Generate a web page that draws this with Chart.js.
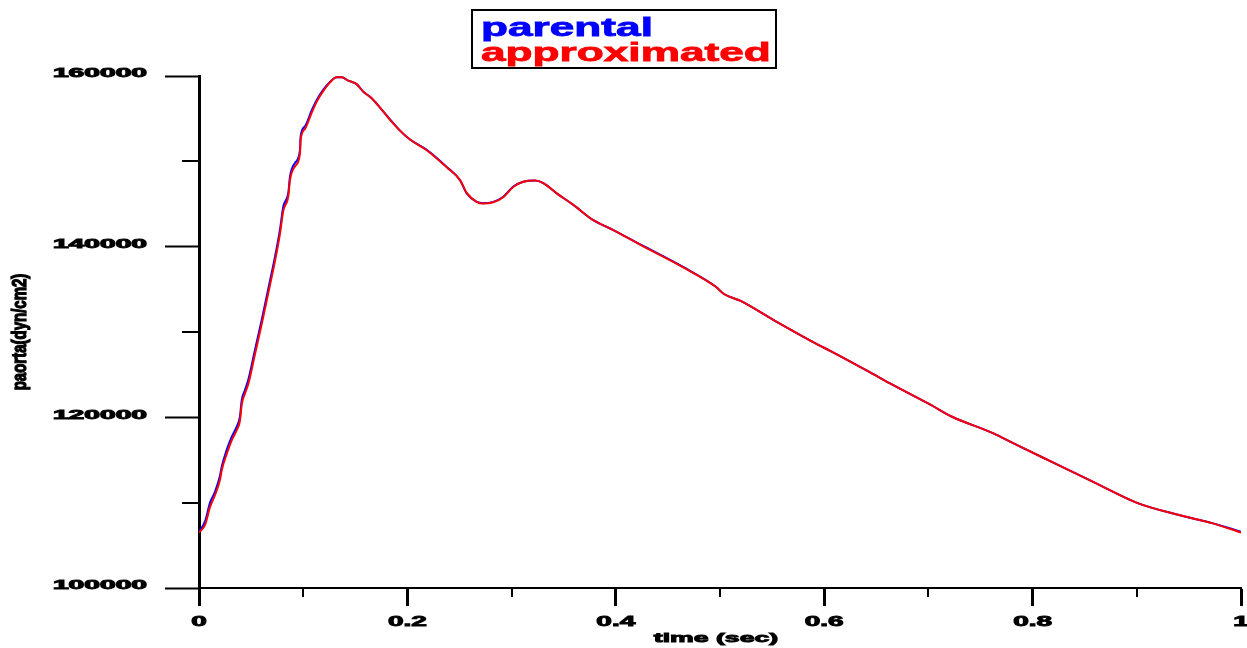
<!DOCTYPE html>
<html>
<head>
<meta charset="utf-8">
<script src="https://cdn.jsdelivr.net/npm/chart.js@4.4.1/dist/chart.umd.min.js"></script>
<style>
  html, body { margin: 0; padding: 0; background: #fff; }
  #wrap { width: 1247px; height: 648px; position: relative; }
</style>
</head>
<body>
<div id="wrap"><canvas id="pressure-chart"></canvas></div>
<script>
// --- data ---
const time = [0, 0.0058, 0.0106, 0.0154, 0.0202, 0.0218, 0.0266, 0.0314, 0.0362, 0.0393,
    0.041, 0.0441, 0.0473, 0.0537, 0.0605, 0.0662, 0.0729, 0.0777, 0.0809, 0.0857,
    0.0873, 0.0921, 0.0969, 0.0975, 0.1017, 0.1082, 0.113, 0.1193, 0.1257, 0.1321,
    0.137, 0.1433, 0.1513, 0.1577, 0.1657, 0.1737, 0.1817, 0.1929, 0.2025, 0.2185,
    0.2377, 0.2505, 0.2569, 0.2665, 0.2728, 0.2824, 0.292, 0.3016, 0.3112, 0.3225,
    0.3304, 0.3433, 0.3592, 0.3784, 0.3976, 0.4246, 0.4642, 0.496, 0.5038, 0.5198,
    0.5515, 0.5912, 0.6071, 0.6428, 0.6627, 0.7024, 0.7222, 0.7619, 0.7818, 0.8214,
    0.8611, 0.9008, 0.9405, 0.9722, 1.0];

const parental = [106600, 107800, 110000, 111300, 113200, 114200, 116200, 117700, 118900, 120100,
    122000, 123200, 124400, 127900, 131600, 134900, 138800, 142000, 144700, 146300,
    148200, 149800, 151300, 152900, 154100, 156000, 157200, 158400, 159300, 159850,
    159850, 159450, 159050, 158150, 157400, 156300, 155150, 153600, 152550, 151350,
    149350, 147800, 146250, 145250, 145100, 145250, 145850, 147050, 147600, 147750,
    147450, 146250, 144900, 143100, 141950, 140200, 137650, 135300, 134450, 133650,
    131400, 128700, 127700, 125350, 124000, 121450, 120100, 118150, 116950, 114600,
    112250, 109950, 108550, 107600, 106600];

const approximated = [106500, 107400, 109500, 110900, 112700, 113800, 115700, 117300, 118500, 119600,
    121500, 122800, 123900, 127400, 131100, 134400, 138300, 141500, 144200, 145900,
    147800, 149400, 150900, 152500, 153800, 155700, 157000, 158250, 159250, 159850,
    159850, 159450, 159050, 158150, 157400, 156300, 155100, 153600, 152550, 151300,
    149300, 147800, 146300, 145250, 145050, 145200, 145800, 147000, 147600, 147750,
    147450, 146250, 144900, 143100, 141950, 140150, 137600, 135300, 134450, 133650,
    131400, 128700, 127700, 125350, 124000, 121450, 120100, 118150, 116950, 114600,
    112250, 109950, 108550, 107600, 106500];

const xTickLabels = ['0', '0.2', '0.4', '0.6', '0.8', '1'];
const yTickLabels = ['100000', '120000', '140000', '160000'];
const xMinorTicks = [0.1, 0.3, 0.5, 0.7, 0.9];
const yMinorTicks = [110000, 130000, 150000];

const xTitle = 'time (sec)';
const yTitle = 'paorta(dyn/cm2)';

const toPoints = (xs, ys) => xs.map((t, i) => ({ x: t, y: ys[i] }));

// wide, heavy text like the old plotting tool printed it
function wideText(ctx, text, px, py, sx, align, weight) {
    ctx.save();
    ctx.translate(px, py);
    ctx.scale(sx, 1);
    ctx.textAlign = align;
    ctx.fillText(text, 0, 0);
    if (weight) {
        ctx.strokeStyle = ctx.fillStyle;
        ctx.lineWidth = weight;
        ctx.strokeText(text, 0, 0);
    }
    ctx.restore();
}

const axisDecor = {
    id: 'axisDecor',
    afterDraw(chart) {
        const { ctx, scales: { x, y } } = chart;
        ctx.save();
        ctx.strokeStyle = '#000';
        ctx.fillStyle = '#000';

        // minor ticks
        ctx.lineWidth = 2;
        ctx.beginPath();
        xMinorTicks.forEach(v => {
            const px = Math.round(x.getPixelForValue(v));
            ctx.moveTo(px, x.top);
            ctx.lineTo(px, x.top + 9);
        });
        yMinorTicks.forEach(v => {
            const py = Math.round(y.getPixelForValue(v));
            ctx.moveTo(y.right - 17, py);
            ctx.lineTo(y.right, py);
        });
        ctx.stroke();

        // tick labels
        ctx.textBaseline = 'middle';
        ctx.font = 'bold 14px "Liberation Sans"';
        x.ticks.forEach((t, i) => {
            wideText(ctx, xTickLabels[i], x.getPixelForValue(t.value), 622, 2.0, 'center', 0.9);
        });
        ctx.font = 'bold 12px "Liberation Sans"';
        y.ticks.forEach((t, i) => {
            wideText(ctx, yTickLabels[i], 147, y.getPixelForValue(t.value) - 2, 2.35, 'right', 0.9);
        });

        // axis titles
        ctx.font = 'bold 13px "Liberation Sans"';
        wideText(ctx, xTitle, (x.left + x.right) / 2 - 4, 638, 2.05, 'center', 0.9);

        ctx.save();
        ctx.translate(21, (y.top + y.bottom) / 2);
        ctx.scale(1.3, 1);
        ctx.rotate(-Math.PI / 2);
        ctx.font = 'bold 15px "Liberation Sans"';
        ctx.textAlign = 'center';
        ctx.fillText(yTitle, 0, 0);
        ctx.lineWidth = 1;
        ctx.strokeText(yTitle, 0, 0);
        ctx.restore();

        // legend box
        ctx.lineWidth = 2;
        ctx.strokeRect(472, 10, 304, 58);
        ctx.textBaseline = 'alphabetic';
        ctx.font = 'bold 26px "Liberation Sans"';
        chart.data.datasets.forEach((ds, i) => {
            ctx.fillStyle = ds.borderColor;
            wideText(ctx, ds.label, 481, 36 + i * 25, 1.7, 'left', 0.8);
        });
        ctx.restore();
    }
};

new Chart(document.getElementById('pressure-chart'), {
    type: 'line',
    data: {
        datasets: [
            {
                label: 'parental',
                data: toPoints(time, parental),
                borderColor: '#0000ff',
                borderWidth: 2,
                pointRadius: 0,
                cubicInterpolationMode: 'monotone',
                order: 2
            },
            {
                label: 'approximated',
                data: toPoints(time, approximated),
                borderColor: '#ff0000',
                borderWidth: 2,
                pointRadius: 0,
                cubicInterpolationMode: 'monotone',
                order: 1
            }
        ]
    },
    options: {
        responsive: true,
        maintainAspectRatio: false,
        animation: false,
        layout: { padding: { left: 165, right: 6, top: 76, bottom: 42 } },
        plugins: { legend: { display: false }, tooltip: { enabled: false } },
        scales: {
            x: {
                type: 'linear',
                min: 0,
                max: 1,
                ticks: { display: false, stepSize: 0.2 },
                grid: { drawOnChartArea: false, tickLength: 18, tickWidth: 3, tickColor: '#000' },
                border: { color: '#000', width: 2 }
            },
            y: {
                min: 100000,
                max: 160000,
                ticks: { display: false, stepSize: 20000 },
                grid: { drawOnChartArea: false, tickLength: 34, tickWidth: 2, tickColor: '#000' },
                border: { color: '#000', width: 3 }
            }
        }
    },
    plugins: [axisDecor]
});
</script>
</body>
</html>
